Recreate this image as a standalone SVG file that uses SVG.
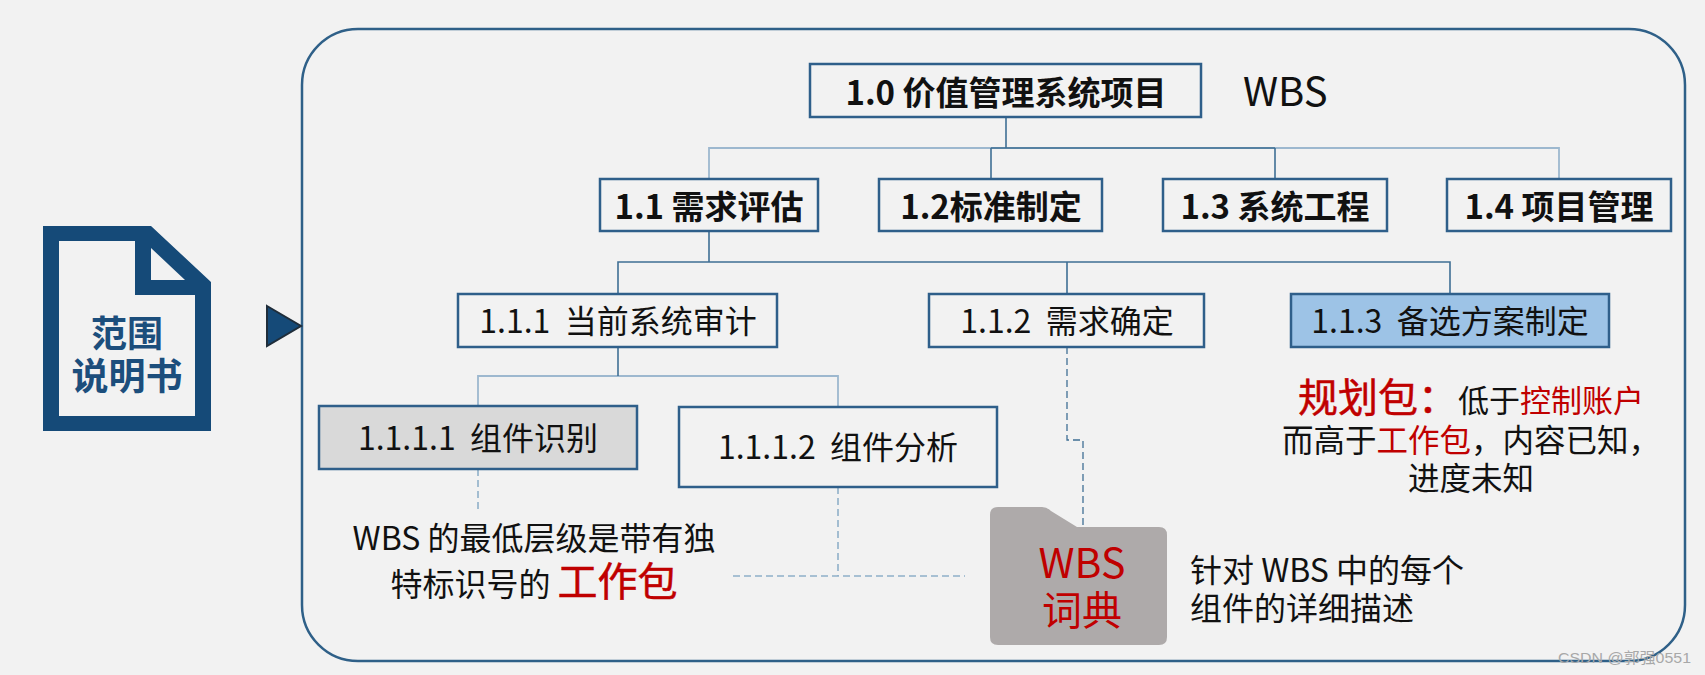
<svg xmlns="http://www.w3.org/2000/svg" width="1705" height="675" viewBox="0 0 1705 675">
<style>
text{font-family:"Noto Sans CJK SC","Noto Sans",sans-serif;fill:#111}
.m{text-anchor:middle}
.b{fill:#f2f2f2;stroke:#2f5f8a;stroke-width:2.5}
.l1{font-size:33px;font-weight:700}
.l3{font-size:32px}
.r{fill:#c00000}
.rb{fill:#c00000;stroke:#c00000;stroke-width:.5}
.c{fill:none;stroke:#3f6f94;stroke-width:1.6}
.c2{fill:none;stroke:#9db8cf;stroke-width:1.8}
.d{fill:none;stroke:#8fb0c9;stroke-width:1.6;stroke-dasharray:7 4}
</style>
<rect width="1705" height="675" fill="#f2f2f2"/>
<g id="frame"><rect x="302" y="29" width="1383" height="632" rx="56" fill="#f2f2f2" stroke="#2f6088" stroke-width="2.5"/></g>
<g id="connectors">
<path class="c2" d="M709 179V148H1559V179"/>
<path class="c" d="M1006 117V148M991 148V179M1275 148V179M991 148H1275"/>
<path class="c" d="M709 231V262M618 294V262H1450V294M1067 262V294"/>
<path class="c2" d="M478 406V376H838V406"/>
<path class="c" d="M618 347V376"/>
<path class="d" d="M478 469V513M838 487V576M733 576H965"/>
<path d="M1067 347V440H1083V533" fill="none" stroke="#3f6f94" stroke-width="1.3" stroke-dasharray="7 4"/>
</g>
<g id="scope-doc">
<path fill-rule="evenodd" fill="#154a78" d="M43 226H151L211 282V431H43ZM59 241V416H195V295H135V241ZM151 248V280H185Z"/>
<text class="m" x="127" y="347" font-size="36" font-weight="700" style="fill:#1c4e7c">范围</text>
<text class="m" x="127" y="390" font-size="37" font-weight="700" style="fill:#1c4e7c">说明书</text>
</g>
<g id="scope-arrow"><path d="M267 306L301 326L267 346Z" fill="#154a78" stroke="#1f2d3a" stroke-width="2"/></g>
<g id="n1-0"><rect class="b" x="810" y="64" width="391" height="53"/><text class="m l1" x="1006" y="105">1.0 价值管理系统项目</text></g>
<text id="wbs" x="1243" y="106" font-size="40">WBS</text>
<g id="n1-1"><rect class="b" x="600" y="179" width="218" height="52"/><text class="m l1" x="709" y="219">1.1 需求评估</text></g>
<g id="n1-2"><rect class="b" x="879" y="179" width="223" height="52"/><text class="m l1" x="991" y="219">1.2标准制定</text></g>
<g id="n1-3"><rect class="b" x="1163" y="179" width="224" height="52"/><text class="m l1" x="1275" y="219">1.3 系统工程</text></g>
<g id="n1-4"><rect class="b" x="1447" y="179" width="224" height="52"/><text class="m l1" x="1559" y="219">1.4 项目管理</text></g>
<g id="n1-1-1"><rect class="b" x="458" y="294" width="319" height="53"/><text class="m l3" x="618" y="333" xml:space="preserve">1.1.1  当前系统审计</text></g>
<g id="n1-1-2"><rect class="b" x="929" y="294" width="275" height="53"/><text class="m l3" x="1067" y="333" xml:space="preserve">1.1.2  需求确定</text></g>
<g id="n1-1-3"><rect class="b" x="1291" y="294" width="318" height="53" style="fill:#9dc3e6"/><text class="m l3" x="1450" y="333" xml:space="preserve">1.1.3  备选方案制定</text></g>
<g id="n1-1-1-1"><rect class="b" x="319" y="406" width="318" height="63" style="fill:#d9d9d9"/><text class="m l3" x="478" y="450" xml:space="preserve">1.1.1.1  组件识别</text></g>
<g id="n1-1-1-2"><rect class="b" x="679" y="407" width="318" height="80"/><text class="m l3" x="838" y="459" xml:space="preserve">1.1.1.2  组件分析</text></g>
<g id="note-lowest">
<text class="m" x="534" y="550" font-size="32">WBS 的最低层级是带有独</text>
<text class="m" x="534" y="596" font-size="32">特标识号的 <tspan class="rb" font-size="40">工作包</tspan></text>
</g>
<g id="wbs-dict">
<path d="M998 507H1042Q1047 507 1051 511L1077 527H1159Q1167 527 1167 535V637Q1167 645 1159 645H998Q990 645 990 637V515Q990 507 998 507Z" fill="#aeaaaa"/>
<text class="m r" x="1082" y="578" font-size="41">WBS</text>
<text class="m r" x="1082" y="625" font-size="40">词典</text>
</g>
<g id="note-dict">
<text x="1190" y="582" font-size="32">针对 WBS 中的每个</text>
<text x="1190" y="620" font-size="32">组件的详细描述</text>
</g>
<g id="note-planning">
<text class="m" x="1471" y="412" font-size="31"><tspan class="rb" font-size="40">规划包：</tspan>低于<tspan class="r">控制账户</tspan></text>
<text class="m" x="1471" y="452" font-size="31.5">而高于<tspan class="r">工作包</tspan>，内容已知，</text>
<text class="m" x="1471" y="490" font-size="31.5">进度未知</text>
</g>
<text id="watermark" x="1558" y="663" font-size="15" textLength="133" lengthAdjust="spacingAndGlyphs" style="fill:#a8a8a8;font-family:'Liberation Sans','Noto Sans CJK SC',sans-serif">CSDN @郭强0551</text>
</svg>
